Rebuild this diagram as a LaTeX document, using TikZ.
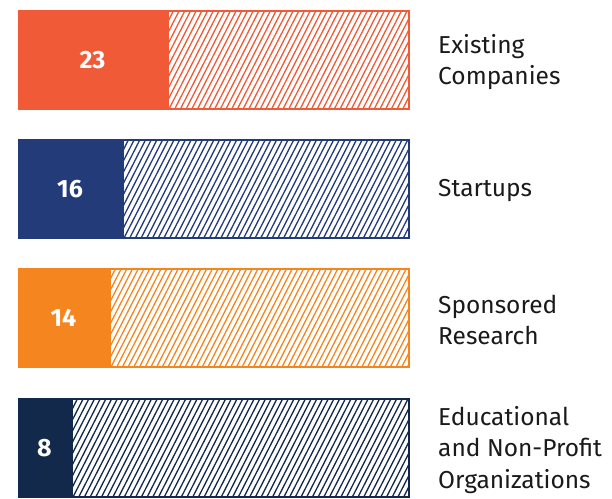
\documentclass[tikz,border=0pt]{standalone}
\usepackage{fontspec}
\setmainfont{Fira Sans}
\definecolor{cA}{HTML}{F15A37}
\definecolor{cB}{HTML}{243B7A}
\definecolor{cC}{HTML}{F5861F}
\definecolor{cD}{HTML}{13294B}
\definecolor{txt}{HTML}{1A1A1A}
\newcommand\chartbar[6]{%
  \node[fillpart, fill=#2, minimum width={#4-18}, anchor=north west] (#1f) at (18,#3) {#5};
  \node[hatchpart, draw=#2, minimum width={410-#4-2}, anchor=north west,
    path picture={
      \foreach \i in {-12,...,62} {
        \draw[#2, line width=1.3pt] ([xshift=\i*5.7pt, yshift=-2pt]path picture bounding box.south west) -- ++(53pt,104pt);
      }
    }] (#1h) at (#4+1,#3+1) {};
  \node[lab, anchor=west] (#1l) at (438,#3+52) {#6};
}
\begin{document}
\begin{tikzpicture}[x=1pt,y=-1pt,
  fillpart/.style={inner sep=0pt, outer sep=0pt, minimum height=100pt, text=white,
    font=\fontsize{25}{28}\selectfont\bfseries},
  hatchpart/.style={inner sep=0pt, outer sep=0pt, minimum height=98pt, line width=2pt, fill=white},
  lab/.style={inner sep=0pt, align=left, text=txt, font=\fontsize{24.5}{31.5}\selectfont}]
\useasboundingbox (0,0) rectangle (612,498);
\chartbar{a}{cA}{10}{167}{23}{Existing\\Companies}
\chartbar{b}{cB}{139}{122}{16}{Startups}
\chartbar{c}{cC}{268}{109}{14}{Sponsored\\Research}
\chartbar{d}{cD}{398}{71}{8}{Educational\\and Non-Profit\\Organizations}
\end{tikzpicture}
\end{document}
